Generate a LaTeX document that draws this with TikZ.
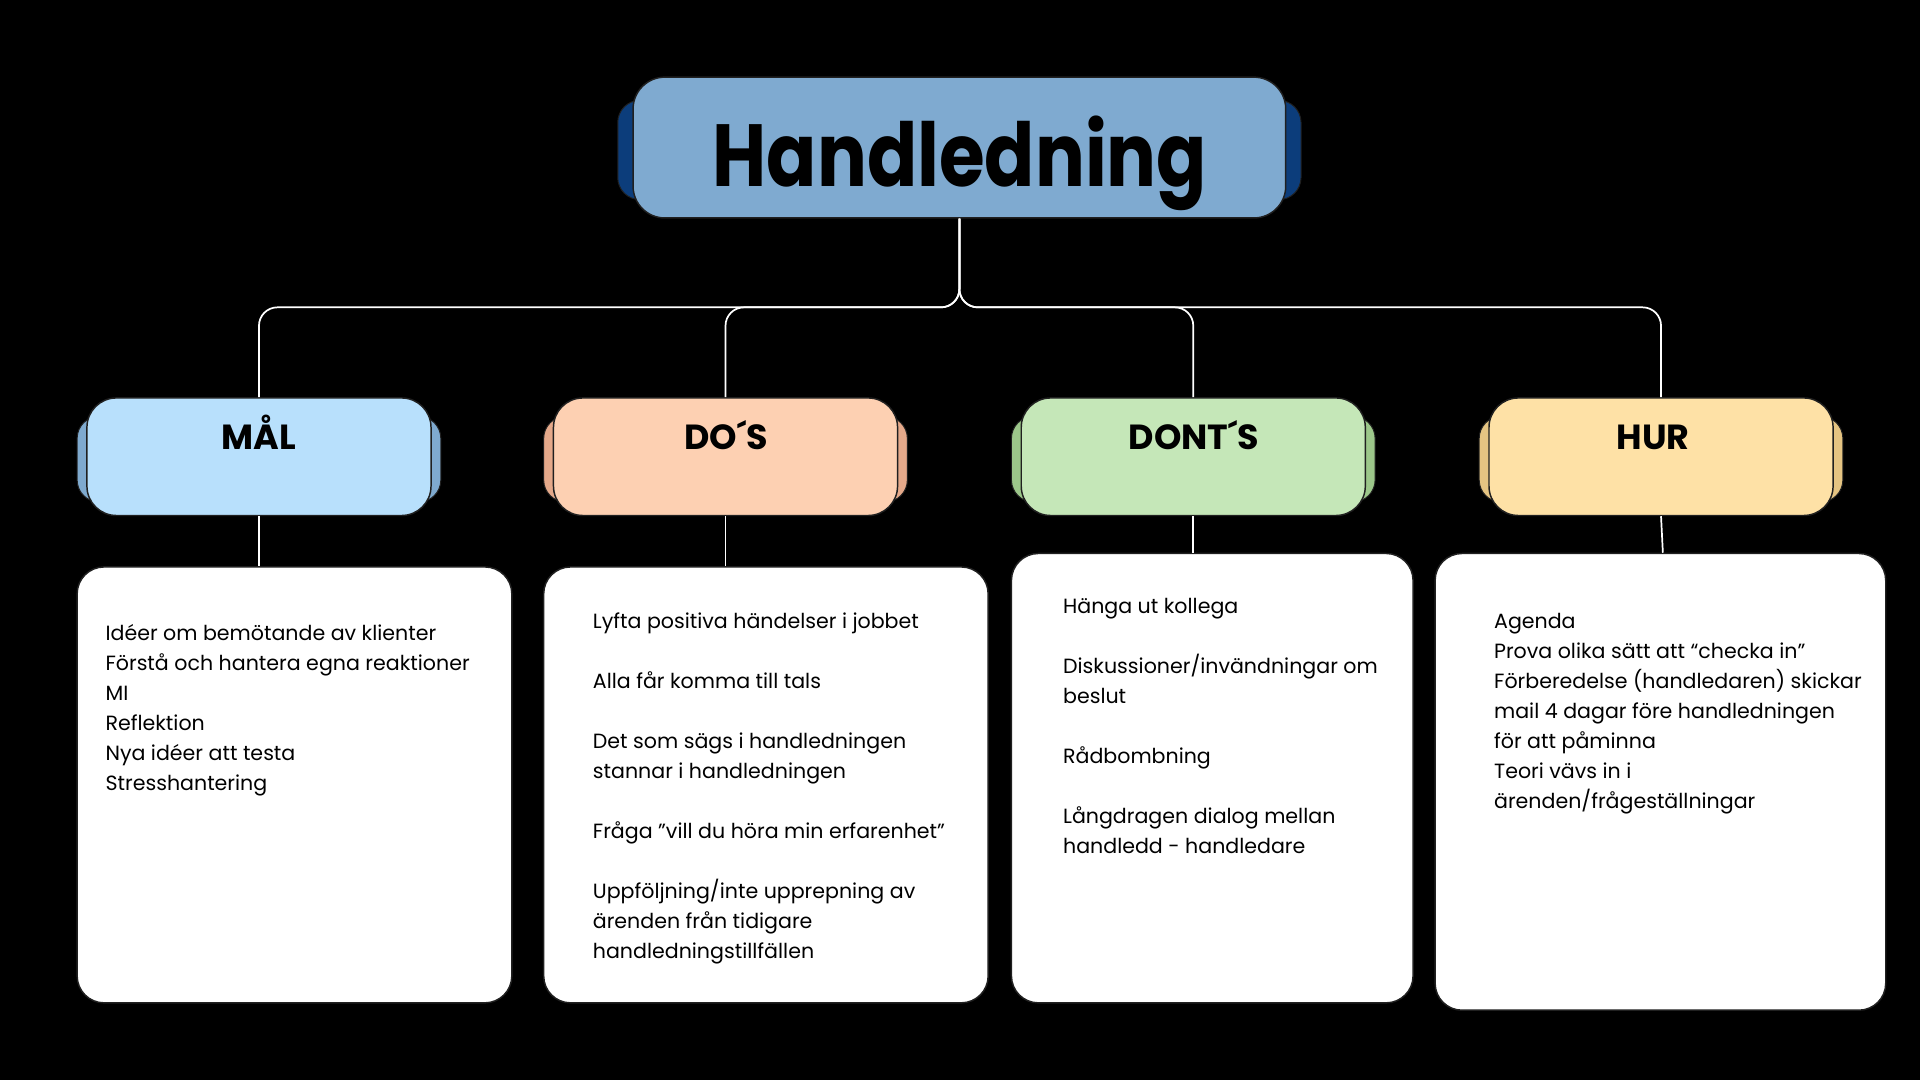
\documentclass[tikz,border=0pt]{standalone}
\usepackage{fontspec}
\setmainfont{Poppins}
\usetikzlibrary{positioning}
\definecolor{titlefill}{HTML}{7FAAD0}
\definecolor{titleback}{HTML}{0C3D7B}
\definecolor{malfill}{HTML}{B8E0FC}
\definecolor{malback}{HTML}{7FAACF}
\definecolor{dosfill}{HTML}{FDD0B2}
\definecolor{dosback}{HTML}{E5A98A}
\definecolor{dontfill}{HTML}{C5E7B8}
\definecolor{dontback}{HTML}{9CC78A}
\definecolor{hurfill}{HTML}{FEE1A6}
\definecolor{hurback}{HTML}{E5C482}
\definecolor{edge}{HTML}{202020}
\tikzset{
  conn/.style={draw=white, line width=1.4pt, rounded corners=15pt},
  backbox/.style={rectangle, rounded corners=18pt, draw=edge, line width=0.8pt, inner sep=0pt},
  catbox/.style={rectangle, rounded corners=24pt, draw=edge, line width=1.2pt, inner sep=0pt, minimum width=281pt, minimum height=96pt},
  contentbox/.style={rectangle, rounded corners=22pt, draw=edge, fill=white, line width=1.2pt, inner sep=0pt},
  cattext/.style={anchor=base, inner sep=0pt, font=\fontsize{28.5}{32}\selectfont\bfseries},
  bodytext/.style={anchor=base west, inner sep=0pt, font=\fontsize{16.8}{24.5}\selectfont},
}
\newcommand{\bodypar}[1]{\parbox[t]{360pt}{\raggedright #1}}
\begin{document}
\begin{tikzpicture}[x=1pt,y=-1pt]
\fill[black] (0,0) rectangle (1568,882);
\useasboundingbox (0,0) rectangle (1568,882);

% title
\node[backbox, fill=titleback, minimum width=558pt, minimum height=81pt] (titleback) at (783.5,122.5) {};
\node[rectangle, rounded corners=26pt, draw=edge, line width=1.2pt, fill=titlefill, minimum width=533pt, minimum height=115pt, inner sep=0pt] (title) at (783.5,120.5) {};
\node[anchor=base, inner sep=0pt, font=\fontsize{72}{80}\selectfont\bfseries] (titletext) at (784,152) {\scalebox{0.84}[1]{Handledning}};

% category back boxes
\node[backbox, fill=malback, minimum width=297pt, minimum height=70pt] (malb) at (211.5,375) {};
\node[backbox, fill=dosback, minimum width=297pt, minimum height=70pt] (dosb) at (592.5,375) {};
\node[backbox, fill=dontback, minimum width=297pt, minimum height=70pt] (dontb) at (974.5,375) {};
\node[backbox, fill=hurback, minimum width=297pt, minimum height=70pt] (hurb) at (1356.5,375) {};

% category boxes
\node[catbox, fill=malfill] (mal) at (211.5,373) {};
\node[catbox, fill=dosfill] (dos) at (592.5,373) {};
\node[catbox, fill=dontfill] (dont) at (974.5,373) {};
\node[catbox, fill=hurfill] (hur) at (1356.5,373) {};

\node[cattext] (maltext) at (211.5,367) {MÅL};
\node[cattext] (dostext) at (593,367) {DO´S};
\node[cattext] (donttext) at (975,367) {DONT´S};
\node[cattext] (hurtext) at (1350,367) {HUR};

% connectors title -> categories
\draw[conn] (title.south) -- (783.5,251) -- (211.5,251) -- (mal.north);
\draw[conn] (title.south) -- (783.5,251) -- (592.5,251) -- (dos.north);
\draw[conn] (title.south) -- (783.5,251) -- (974.5,251) -- (dont.north);
\draw[conn] (title.south) -- (783.5,251) -- (1356.5,251) -- (hur.north);

% content boxes
\node[contentbox, minimum width=355pt, minimum height=356pt] (box1) at (240.5,641) {};
\node[contentbox, minimum width=363pt, minimum height=356pt] (box2) at (625.5,641) {};
\node[contentbox, minimum width=328pt, minimum height=367pt] (box3) at (990,635.5) {};
\node[contentbox, minimum width=368pt, minimum height=373pt] (box4) at (1356,638.5) {};

% connectors categories -> content
\draw[draw=white, line width=1.4pt] (mal.south) -- (mal.south |- box1.north);
\draw[draw=white, line width=1.4pt] (dos.south) -- (dos.south |- box2.north);
\draw[draw=white, line width=1.4pt] (dont.south) -- (dont.south |- box3.north);
\draw[draw=white, line width=1.4pt] (hur.south) -- ([xshift=1.5pt]hur.south |- box4.north);

% texts
\node[bodytext] (t1) at (86,523) {\bodypar{Idéer om bemötande av klienter\\
Förstå och hantera egna reaktioner\\
MI\\
Reflektion\\
Nya idéer att testa\\
Stresshantering}};

\node[bodytext] (t2) at (484,513) {\bodypar{Lyfta positiva händelser i jobbet\\[24.5pt]
Alla får komma till tals\\[24.5pt]
Det som sägs i handledningen\\
stannar i handledningen\\[24.5pt]
Fråga ”vill du höra min erfarenhet”\\[24.5pt]
Uppföljning/inte upprepning av\\
ärenden från tidigare\\
handledningstillfällen}};

\node[bodytext] (t3) at (868,501) {\bodypar{Hänga ut kollega\\[24.5pt]
Diskussioner/invändningar om\\
beslut\\[24.5pt]
Rådbombning\\[24.5pt]
Långdragen dialog mellan\\
handledd - handledare}};

\node[bodytext] (t4) at (1220,513) {\bodypar{Agenda\\
Prova olika sätt att “checka in”\\
Förberedelse (handledaren) skickar\\
mail 4 dagar före handledningen\\
för att påminna\\
Teori vävs in i\\
ärenden/frågeställningar}};
\end{tikzpicture}
\end{document}
